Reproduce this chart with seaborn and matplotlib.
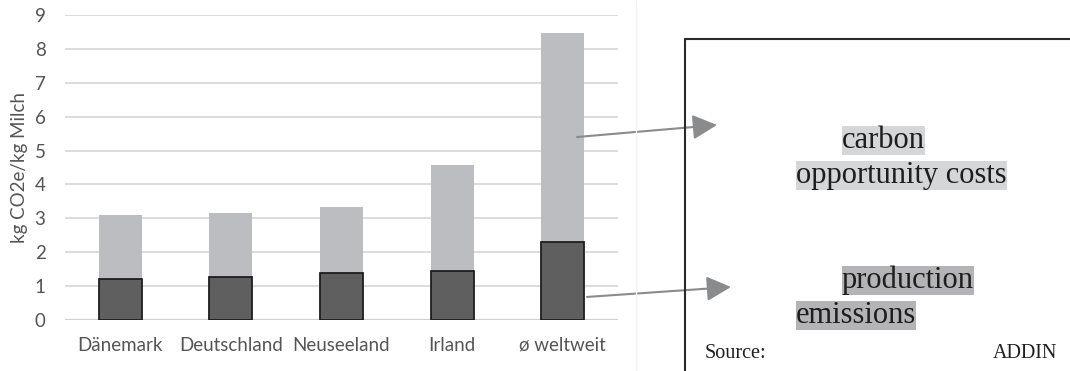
import matplotlib
matplotlib.use("Agg")
import matplotlib.pyplot as plt
from matplotlib.lines import Line2D
import seaborn as sns
import pandas as pd

countries = ["Dänemark", "Deutschland", "Neuseeland", "Irland", "ø weltweit"]
production = [1.20, 1.28, 1.40, 1.44, 2.30]
opportunity = [1.90, 1.89, 1.94, 3.13, 6.18]
y_ticks = [0, 1, 2, 3, 4, 5, 6, 7, 8, 9]
y_label = "kg CO2e/kg Milch"

total = [p + o for p, o in zip(production, opportunity)]
df = pd.DataFrame({"country": countries, "production": production, "total": total})

sns.set_theme(style="white")
plt.rcParams["font.family"] = ["Lato", "DejaVu Sans"]

fig = plt.figure(figsize=(10.70, 3.71), dpi=100)
ax = fig.add_axes([65/1070, 1-320/371, 553/1070, 305/371])

light = "#bcbdc0"
dark = "#5f5f5f"
sns.barplot(data=df, x="country", y="total", color=light, width=0.39,
            saturation=1, ax=ax, zorder=3, linewidth=0)
sns.barplot(data=df, x="country", y="production", color=dark, width=0.39,
            saturation=1, ax=ax, zorder=4, edgecolor="#1e1e1e", linewidth=1.3)

ax.set_xlim(-0.5, 4.5)
ax.set_ylim(0, 9)
ax.set_yticks(y_ticks)
ax.yaxis.grid(True, color="#dcdcdc", lw=1.4, zorder=0)
ax.set_axisbelow(True)
for s in ax.spines.values():
    s.set_visible(False)
ax.axhline(0, color="#d0d0d0", lw=1.6, zorder=2)
ax.tick_params(axis="both", length=0, labelsize=13.5, labelcolor="#555555")
ax.tick_params(axis="y", pad=14)
ax.tick_params(axis="x", pad=12)
ax.set_xlabel("")
ax.set_ylabel(y_label, fontsize=13.5, color="#555555", labelpad=5)

# faint chart area border
fig.add_artist(Line2D([636/1070, 636/1070], [0, 1], transform=fig.transFigure,
                      color="#f2f2f2", lw=1))

# box on the right
fig.add_artist(Line2D([685/1070, 1.0], [1-39/371, 1-39/371], transform=fig.transFigure,
                      color="#2a2a2a", lw=1.5))
fig.add_artist(Line2D([685/1070, 685/1070], [0, 1-39/371], transform=fig.transFigure,
                      color="#2a2a2a", lw=1.5))

serif = ["Liberation Serif", "DejaVu Serif"]
tc = "#1e1e1e"
hl1 = "#d5d6d8"
hl2 = "#b4b4b6"
fs = 22
fig.text(842/1070, 1-155/371, "carbon", family=serif, fontsize=fs, color=tc,
         ha="left", va="bottom", bbox=dict(facecolor=hl1, edgecolor="none", pad=0))
fig.text(796/1070, 1-190/371, "opportunity costs", family=serif, fontsize=fs, color=tc,
         ha="left", va="bottom", bbox=dict(facecolor=hl1, edgecolor="none", pad=0))
fig.text(842/1070, 1-295/371, "production", family=serif, fontsize=fs, color=tc,
         ha="left", va="bottom", bbox=dict(facecolor=hl2, edgecolor="none", pad=0))
fig.text(796/1070, 1-330/371, "emissions", family=serif, fontsize=fs, color=tc,
         ha="left", va="bottom", bbox=dict(facecolor=hl2, edgecolor="none", pad=0))
fig.text(705/1070, 1-353/371, "Source:", family=serif, fontsize=14.5, color=tc,
         ha="left", va="center")
fig.text(1057/1070, 1-353/371, "ADDIN", family=serif, fontsize=14.5, color=tc,
         ha="right", va="center")

arrow = dict(arrowstyle="-|>,head_length=0.75,head_width=0.38", color="#8a8b8d",
             lw=1.5, mutation_scale=20, shrinkA=0, shrinkB=0)
ax.annotate("", xy=(717/1070, 1-125/371), xycoords="figure fraction",
            xytext=(4.13, 5.4), textcoords="data", arrowprops=arrow,
            annotation_clip=False, zorder=6)
ax.annotate("", xy=(731/1070, 1-287/371), xycoords="figure fraction",
            xytext=(4.22, 0.68), textcoords="data", arrowprops=arrow,
            annotation_clip=False, zorder=6)

fig.savefig("out.png", dpi=100)
